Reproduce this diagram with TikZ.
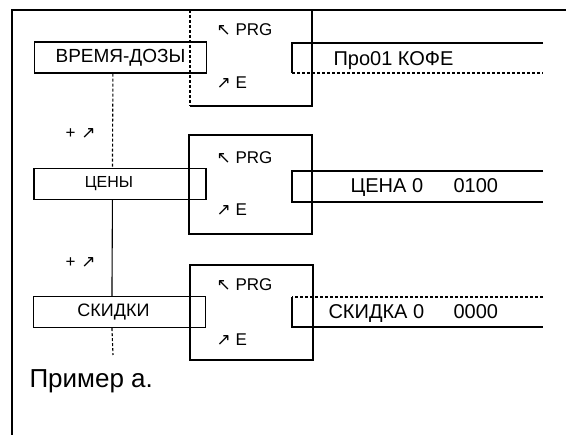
\documentclass[tikz,border=0pt]{standalone}
\usepackage{fontspec}
\setmainfont{Liberation Sans}
\newfontfamily\arrowfont{DejaVu Sans}
\usetikzlibrary{positioning,calc}

\begin{document}
\begin{tikzpicture}[x=1pt,y=-1pt,line width=1.1pt,
    lbl/.style={draw,rectangle,minimum width=172pt,minimum height=31pt,inner sep=0pt,
      font=\fontsize{18}{18}\selectfont},
    val/.style={anchor=base west,inner sep=0pt,font=\fontsize{20}{20}\selectfont},
    key/.style={anchor=west,inner sep=0pt,font=\fontsize{17}{17}\selectfont}]
  \useasboundingbox (0,0) rectangle (566,435);
  % frame
  \draw (566,10) -- (12,10) -- (12,435);

  % menu blocks
  \draw[densely dashed] (190,10) -- (190,106);
  \draw (190,106) -- (312,106) -- (312,10);
  \draw (189,135) rectangle (312,234);
  \draw (190,265) rectangle (313,360);
  \foreach \y/\z in {30/83,158/210,285/340} {
    \node[key] at (216,\y) {{\arrowfont ↖} PRG};
    \node[key] at (216,\z) {{\arrowfont ↗} E};
  }

  % left boxes
  \node[lbl,font=\fontsize{19}{19}\selectfont] (vremya) at (120.5,57.5) {ВРЕМЯ-ДОЗЫ};
  \node[lbl,font=\fontsize{16}{16}\selectfont] (ceny) at (120,184) {\hspace*{-22pt}ЦЕНЫ};
  \node[lbl] (skidki) at (119.5,312) {\hspace*{-12pt}СКИДКИ};

  % right boxes
  \draw (543,43) -- (292,43) -- (292,73);
  \draw[densely dashed] (292,73) -- (543,73);
  \draw (543,171) -- (292,171) -- (292,202) -- (543,202);
  \draw[densely dashed] (543,297) -- (292,297);
  \draw (292,297) -- (292,327) -- (543,327);
  \node[val] (kofe) at (333,66) {Про01 КОФЕ};
  \node[val] (cena) at (350,193) {ЦЕНА 0};
  \node[val] (cenaval) at (453,193) {0100};
  \node[val] (skidka) at (328,319) {СКИДКА 0};
  \node[val] (skidkaval) at (453,319) {0000};

  % connectors
  \coordinate (end) at (113,355);
  \draw[densely dashed] ($(vremya.south west)+(79,0)$) -- ($(ceny.north west)+(79,0)$);
  \draw ($(ceny.south west)+(79,0)$) -- ($(skidki.north west)+(79,0)$);
  \draw[densely dashed] ($(skidki.south west)+(79,0)$) -- (end);
  \node[key] (up1) at (65,134) {+\hspace{6pt}{\arrowfont ↗}};
  \node[key] (up2) at (65,263) {+\hspace{6pt}{\arrowfont ↗}};

  \node[anchor=base west,inner sep=0pt,font=\fontsize{26}{26}\selectfont] (example) at (29,388) {Пример а.};
\end{tikzpicture}
\end{document}
